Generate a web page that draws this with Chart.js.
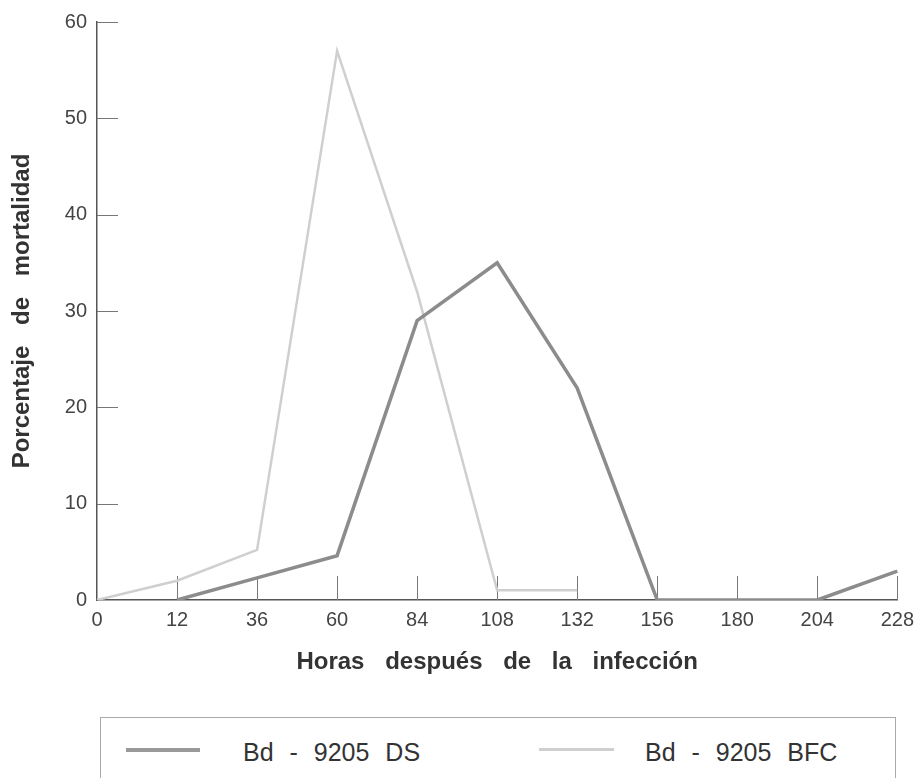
<!DOCTYPE html>
<html>
<head>
<meta charset="utf-8">
<script src="https://cdn.jsdelivr.net/npm/chart.js@4.4.0/dist/chart.umd.min.js"></script>
<style>
  body { margin: 0; background: #fff; overflow: hidden; }
  #wrap { position: relative; width: 922px; height: 778px; }
  #myChart { position: absolute; left: 0; top: 0; }
  #leyenda {
    position: absolute; left: 100px; top: 717px; width: 796px; height: 90px;
    border: 1px solid #aaa; box-sizing: border-box;
    font-family: "Liberation Sans", Arial, sans-serif; font-size: 25px; color: #333;
    word-spacing: 9px;
  }
  .muestra { position: absolute; top: 30px; height: 4px; }
  .texto { position: absolute; top: 20px; white-space: nowrap; }
</style>
</head>
<body>
<div id="wrap">
  <canvas id="myChart" width="922" height="700"></canvas>
  <div id="leyenda">
    <div class="muestra" style="left:25px;width:74px;background:#999"></div>
    <div class="texto" style="left:142px">Bd - 9205 DS</div>
    <div class="muestra" style="left:438px;width:75px;height:3px;background:#cfcfcf"></div>
    <div class="texto" style="left:544px">Bd - 9205 BFC</div>
  </div>
</div>
<script>
// horas despues de la infeccion (eje x)
var horas = ["0", "12", "36", "60", "84", "108", "132", "156", "180", "204", "228"];
// porcentaje de mortalidad
var mortalidadDS = [null, 0, 2.3, 4.6, 29, 35, 22, 0, 0, 0, 3];
var mortalidadBFC = [0, 2, 5.2, 57, 32, 1, 1, null, null, null, null];
var ticksY = [0, 10, 20, 30, 40, 50, 60];

// espacio entre palabras de los titulos
const espacios = {
  id: "espacios",
  beforeDraw(chart) {
    chart.ctx.wordSpacing = "14px";
  }
};

// marcas cortas hacia adentro del grafico
const marcas = {
  id: "marcas",
  beforeDatasetsDraw(chart) {
    const ctx = chart.ctx;
    const area = chart.chartArea;
    const x = chart.scales.x;
    const y = chart.scales.y;
    ctx.save();
    ctx.strokeStyle = "#777";
    ctx.lineWidth = 1;
    ctx.beginPath();
    for (var i = 1; i < horas.length; i++) {
      var px = Math.round(x.getPixelForTick(i)) + 0.5;
      ctx.moveTo(px, area.bottom);
      ctx.lineTo(px, area.bottom - 24);
    }
    for (var j = 1; j < ticksY.length; j++) {
      var py = Math.round(y.getPixelForValue(ticksY[j])) + 0.5;
      ctx.moveTo(area.left, py);
      ctx.lineTo(area.left + 21, py);
    }
    ctx.stroke();
    ctx.restore();
  }
};

const ctx = document.getElementById("myChart");

new Chart(ctx, {
  type: "line",
  data: {
    labels: horas,
    datasets: [
      {
        label: "Bd - 9205 DS",
        data: mortalidadDS,
        borderColor: "#8c8c8c",
        borderWidth: 3.5,
        pointRadius: 0,
        tension: 0,
        borderJoinStyle: "miter",
      },
      {
        label: "Bd - 9205 BFC",
        data: mortalidadBFC,
        borderColor: "#cfcfcf",
        borderWidth: 2.5,
        pointRadius: 0,
        tension: 0,
        borderJoinStyle: "miter",
      },
    ],
  },
  options: {
    responsive: false,
    animation: false,
    events: [],
    layout: { padding: { top: 16, right: 24, left: 0, bottom: 0 } },
    plugins: { legend: { display: false }, tooltip: { enabled: false } },
    scales: {
      x: {
        type: "category",
        offset: false,
        grid: { display: false, drawTicks: false },
        border: { display: true, color: "#555", width: 1.5 },
        ticks: {
          autoSkip: false, maxRotation: 0, padding: 8,
          color: "#444",
          font: { family: "Liberation Sans", size: 20 },
        },
        title: {
          display: true,
          text: "Horas después de la infección",
          color: "#333",
          font: { family: "Liberation Sans", size: 24, weight: "bold" },
          padding: { top: 0, bottom: 23 },
        },
        afterFit: function (s) { s.height = 100; },
      },
      y: {
        min: 0,
        max: 60,
        grid: { display: false, drawTicks: false },
        border: { display: true, color: "#555", width: 1.5 },
        ticks: {
          stepSize: 10, padding: 10,
          color: "#444",
          font: { family: "Liberation Sans", size: 20 },
        },
        title: {
          display: true,
          text: "Porcentaje de mortalidad",
          color: "#333",
          font: { family: "Liberation Sans", size: 24, weight: "bold" },
          padding: { top: 8, bottom: 0 },
        },
        afterFit: function (s) { s.width = 97; },
      },
    },
  },
  plugins: [espacios, marcas],
});
</script>
</body>
</html>
